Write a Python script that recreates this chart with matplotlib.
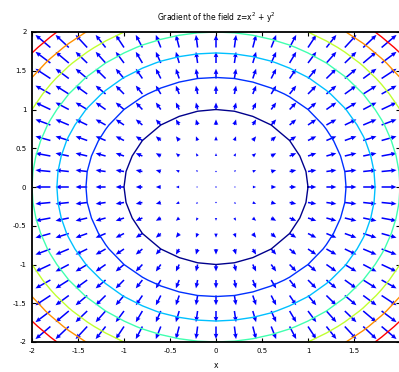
import numpy as np
import matplotlib
matplotlib.use("Agg")
import matplotlib.pyplot as plt

# grid and field z = x^2 + y^2 (as in the title)
step = 0.2
xs = np.arange(-2, 2 + step / 2, step)
ys = np.arange(-2, 2 + step / 2, step)
X, Y = np.meshgrid(xs, ys)
Z = X**2 + Y**2

levels = [1, 2, 3, 4, 5, 6, 7]
level_colors = ["#00008c", "#0030ff", "#00c0ff", "#40ffb0", "#c0ff30", "#ff9000", "#ff0000"]
ticks = [-2, -1.5, -1, -0.5, 0, 0.5, 1, 1.5, 2]
xtick_labels = ["-2", "-1.5", "-1", "-0.5", "0", "0.5", "1", "1.5", ""]
ytick_labels = ["-2", "-1.5", "-1", "-0.5", "0", "0.5", "1", "1.5", "2"]

# gradient, same as matlab gradient(z, .2, .2)
PY, PX = np.gradient(Z, step, step)

# matlab style autoscale of quiver arrows
n = len(xs)
delx = (xs.max() - xs.min()) / n
dely = (ys.max() - ys.min()) / n
maxlen = np.sqrt((PX**2 + PY**2) / (delx**2 + dely**2)).max()
autoscale = 0.9 / maxlen

fig = plt.figure(figsize=(3.99, 3.72), dpi=100)
ax = fig.add_axes([32 / 399, 30 / 372, 368 / 399, 310 / 372])

ax.contour(X, Y, Z, levels=levels, colors=level_colors, linewidths=1.0)
ax.quiver(X, Y, PX, PY, color="#0000ff", angles="xy", scale_units="xy",
          scale=1 / autoscale, width=0.0042, headwidth=3.0, headlength=3.5,
          headaxislength=3.2, pivot="tail")

ax.set_xlim(-2, 2)
ax.set_ylim(-2, 2)
ax.set_xticks(ticks)
ax.set_xticklabels(xtick_labels)
ax.set_yticks(ticks)
ax.set_yticklabels(ytick_labels)
ax.tick_params(direction="in", top=True, right=True, length=3, width=0.8,
               labelsize=5, pad=4, colors="black")
for s in ax.spines.values():
    s.set_linewidth(1.3)

ax.set_title("Gradient of the field z=x$^2$ + y$^2$", fontsize=5.5, pad=8)
ax.set_xlabel("x", fontsize=5.5, labelpad=5)

fig.savefig("out.png", dpi=100)
